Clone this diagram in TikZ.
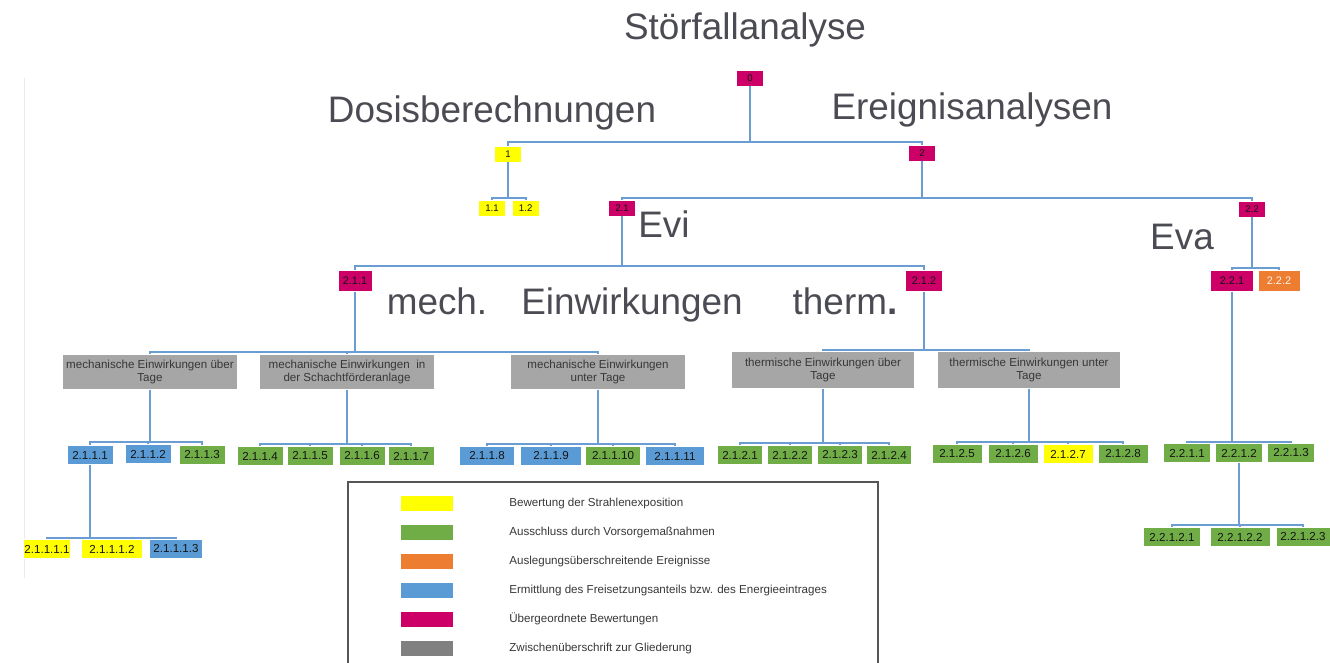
\documentclass[tikz,border=0pt]{standalone}
\usepackage{fontspec}
\setmainfont{Liberation Sans}
\usetikzlibrary{positioning}
\definecolor{magentabox}{HTML}{CC0066}
\definecolor{yellowbox}{HTML}{FFFF00}
\definecolor{greenbox}{HTML}{70AD47}
\definecolor{bluebox}{HTML}{5B9BD5}
\definecolor{orangebox}{HTML}{ED7D31}
\definecolor{greybox}{HTML}{A6A6A6}
\definecolor{legendgrey}{HTML}{808080}
\definecolor{linkblue}{HTML}{6A9ED2}
\definecolor{titletext}{HTML}{4B4B53}
\definecolor{boxtext}{HTML}{141414}
\definecolor{framegrey}{HTML}{555555}
\tikzstyle{heading} = [anchor=base, inner sep=0pt, font=\fontsize{21}{25}\selectfont, text=titletext]
\tikzstyle{numsmall} = [rectangle, minimum width=0.54cm, minimum height=0.32cm, inner sep=0pt, draw=white, font=\fontsize{5.5}{6}\selectfont, text=boxtext]
\tikzstyle{nummid} = [numsmall, minimum width=0.74cm, minimum height=0.42cm, font=\fontsize{6.2}{7}\selectfont]
\tikzstyle{numleaf} = [numsmall, minimum width=0.92cm, minimum height=0.38cm, font=\fontsize{6.6}{7}\selectfont]
\tikzstyle{subhead} = [rectangle, fill=greybox, draw=white, minimum width=3.5cm, minimum height=0.7cm, inner sep=0pt, align=center, font=\fontsize{6.6}{7.8}\selectfont, text=boxtext!85]
\tikzstyle{link} = [draw=linkblue, line width=1pt]
\tikzstyle{swatch} = [rectangle, minimum width=1.06cm, minimum height=0.3cm, inner sep=0pt]
\tikzstyle{legendtext} = [anchor=west, inner sep=0pt, font=\fontsize{6.6}{8}\selectfont, text=boxtext!85]

\begin{document}
\begin{tikzpicture}[x=0.02cm, y=-0.02cm]
    \useasboundingbox (0,0) rectangle (1330,663);

    % faint margin line
    \draw [draw=black!8, line width=0.5pt] (24,78) -- (24,578);

    % headings
    \node (t-stoer) [heading] at (745,39) {Störfallanalyse};
    \node (t-dosis) [heading] at (492,122) {Dosisberechnungen};
    \node (t-ereig) [heading] at (972,119) {Ereignisanalysen};
    \node (t-evi) [heading] at (664,237) {Evi};
    \node (t-eva) [heading] at (1182,249) {Eva};
    \node (t-mech) [heading] at (437,314) {mech.};
    \node (t-einw) [heading] at (632,314) {Einwirkungen};
    \node (t-therm) [heading] at (845,314) {therm\textbf{.}};

    % upper levels
    \node (n0) [numsmall, fill=magentabox] at (750,78) {0};
    \node (n1) [numsmall, fill=yellowbox] at (508,154) {1};
    \node (n2) [numsmall, fill=magentabox] at (922,153) {2};
    \node (n1-1) [numsmall, fill=yellowbox] at (492,208) {1.1};
    \node (n1-2) [numsmall, fill=yellowbox, right=0.12cm of n1-1] {1.2};
    \node (n2-1) [numsmall, fill=magentabox] at (622,208) {2.1};
    \node (n2-2) [numsmall, fill=magentabox] at (1252,209) {2.2};
    \node (n2-1-1) [nummid, fill=magentabox, minimum width=0.68cm] at (355,281) {2.1.1};
    \node (n2-1-2) [nummid, fill=magentabox] at (924,281) {2.1.2};
    \node (n2-2-1) [nummid, fill=magentabox, minimum width=0.86cm] at (1232,281) {2.2.1};
    \node (n2-2-2) [nummid, fill=orangebox, minimum width=0.84cm, text=white!90!orangebox] at (1279,281) {2.2.2};

    % intermediate headings
    \node (g-mech-ueber) [subhead] at (150,372) {mechanische Einwirkungen über\\Tage};
    \node (g-mech-schacht) [subhead] at (347,372) {mechanische Einwirkungen \ in\\der Schachtförderanlage};
    \node (g-mech-unter) [subhead] at (598,372) {mechanische Einwirkungen\\unter Tage};
    \node (g-therm-ueber) [subhead, minimum width=3.66cm, minimum height=0.74cm] at (823,370) {thermische Einwirkungen über\\Tage};
    \node (g-therm-unter) [subhead, minimum width=3.66cm, minimum height=0.74cm] at (1029,370) {thermische Einwirkungen unter\\Tage};

    % leaves
    \node (n2-1-1-1) [numleaf, fill=bluebox] at (90,455) {2.1.1.1};
    \node (n2-1-1-2) [numleaf, fill=bluebox] at (148,454) {2.1.1.2};
    \node (n2-1-1-3) [numleaf, fill=greenbox] at (202,455) {2.1.1.3};
    \node (n2-1-1-4) [numleaf, fill=greenbox] at (260,456) {2.1.1.4};
    \node (n2-1-1-5) [numleaf, fill=greenbox] at (310,456) {2.1.1.5};
    \node (n2-1-1-6) [numleaf, fill=greenbox] at (362,456) {2.1.1.6};
    \node (n2-1-1-7) [numleaf, fill=greenbox] at (411,456) {2.1.1.7};
    \node (n2-1-1-8) [numleaf, fill=bluebox, minimum width=1.1cm] at (487,456) {2.1.1.8};
    \node (n2-1-1-9) [numleaf, fill=bluebox, minimum width=1.22cm] at (551,456) {2.1.1.9};
    \node (n2-1-1-10) [numleaf, fill=greenbox, minimum width=1.1cm] at (613,456) {2.1.1.10};
    \node (n2-1-1-11) [numleaf, fill=bluebox, minimum width=1.18cm] at (675,456) {2.1.1.11};
    \node (n2-1-2-1) [numleaf, fill=greenbox, minimum width=0.9cm] at (740,455) {2.1.2.1};
    \node (n2-1-2-2) [numleaf, fill=greenbox, minimum width=0.9cm] at (790,455) {2.1.2.2};
    \node (n2-1-2-3) [numleaf, fill=greenbox, minimum width=0.9cm] at (840,455) {2.1.2.3};
    \node (n2-1-2-4) [numleaf, fill=greenbox, minimum width=0.9cm] at (889,455) {2.1.2.4};
    \node (n2-1-2-5) [numleaf, fill=greenbox, minimum width=1.0cm] at (957,454) {2.1.2.5};
    \node (n2-1-2-6) [numleaf, fill=greenbox, minimum width=1.0cm] at (1013,454) {2.1.2.6};
    \node (n2-1-2-7) [numleaf, fill=yellowbox, minimum width=1.0cm] at (1068,454) {2.1.2.7};
    \node (n2-1-2-8) [numleaf, fill=greenbox, minimum width=1.0cm] at (1123,454) {2.1.2.8};
    \node (n2-2-1-1) [numleaf, fill=greenbox, minimum width=0.94cm] at (1187,453) {2.2.1.1};
    \node (n2-2-1-2) [numleaf, fill=greenbox, minimum width=0.94cm] at (1239,453) {2.2.1.2};
    \node (n2-2-1-3) [numleaf, fill=greenbox, minimum width=0.94cm] at (1291,453) {2.2.1.3};
    \node (n2-2-1-2-1) [numleaf, fill=greenbox, minimum width=1.14cm] at (1172,537) {2.2.1.2.1};
    \node (n2-2-1-2-2) [numleaf, fill=greenbox, minimum width=1.2cm] at (1240,537) {2.2.1.2.2};
    \node (n2-2-1-2-3) [numleaf, fill=greenbox, minimum width=1.08cm] at (1303,537) {2.2.1.2.3};
    \node (n2-1-1-1-1) [numleaf, fill=yellowbox, minimum width=0.94cm] at (47,549) {2.1.1.1.1};
    \node (n2-1-1-1-2) [numleaf, fill=yellowbox, minimum width=1.22cm] at (112,549) {2.1.1.1.2};
    \node (n2-1-1-1-3) [numleaf, fill=bluebox, minimum width=1.06cm] at (176,549) {2.1.1.1.3};

    % bar points of the tree
    \coordinate (bar-0) at (750,142);
    \coordinate (bar-1) at (508,198);
    \coordinate (bar-2) at (922,198);
    \coordinate (bar-2-1) at (622,266);
    \coordinate (bar-2-2) at (1252,268);
    \coordinate (bar-2-1-1) at (355,352);
    \coordinate (bar-2-1-2) at (924,350);
    \coordinate (bar-mu) at (150,442);
    \coordinate (bar-ms) at (347,444);
    \coordinate (bar-mt) at (598,444);
    \coordinate (bar-tu) at (823,443);
    \coordinate (bar-tt) at (1029,442);
    \coordinate (bar-2-2-1) at (1232,442);
    \coordinate (bar-2-1-1-1) at (90,538);
    \coordinate (bar-2-2-1-2) at (1239,525);

    % connectors
    \foreach \p/\b/\c in {n0/bar-0/n1, n0/bar-0/n2,
        n1/bar-1/n1-1, n1/bar-1/n1-2,
        n2/bar-2/n2-1, n2/bar-2/n2-2,
        n2-1/bar-2-1/n2-1-1, n2-1/bar-2-1/n2-1-2,
        n2-2/bar-2-2/n2-2-1, n2-2/bar-2-2/n2-2-2,
        n2-1-1/bar-2-1-1/g-mech-ueber, n2-1-1/bar-2-1-1/g-mech-schacht, n2-1-1/bar-2-1-1/g-mech-unter,
        n2-1-2/bar-2-1-2/g-therm-ueber, n2-1-2/bar-2-1-2/g-therm-unter,
        g-mech-ueber/bar-mu/n2-1-1-1, g-mech-ueber/bar-mu/n2-1-1-2, g-mech-ueber/bar-mu/n2-1-1-3,
        g-mech-schacht/bar-ms/n2-1-1-4, g-mech-schacht/bar-ms/n2-1-1-5, g-mech-schacht/bar-ms/n2-1-1-6, g-mech-schacht/bar-ms/n2-1-1-7,
        g-mech-unter/bar-mt/n2-1-1-8, g-mech-unter/bar-mt/n2-1-1-9, g-mech-unter/bar-mt/n2-1-1-10, g-mech-unter/bar-mt/n2-1-1-11,
        g-therm-ueber/bar-tu/n2-1-2-1, g-therm-ueber/bar-tu/n2-1-2-2, g-therm-ueber/bar-tu/n2-1-2-3, g-therm-ueber/bar-tu/n2-1-2-4,
        g-therm-unter/bar-tt/n2-1-2-5, g-therm-unter/bar-tt/n2-1-2-6, g-therm-unter/bar-tt/n2-1-2-7, g-therm-unter/bar-tt/n2-1-2-8,
        n2-2-1/bar-2-2-1/n2-2-1-1, n2-2-1/bar-2-2-1/n2-2-1-2, n2-2-1/bar-2-2-1/n2-2-1-3,
        n2-1-1-1/bar-2-1-1-1/n2-1-1-1-1, n2-1-1-1/bar-2-1-1-1/n2-1-1-1-2, n2-1-1-1/bar-2-1-1-1/n2-1-1-1-3,
        n2-2-1-2/bar-2-2-1-2/n2-2-1-2-1, n2-2-1-2/bar-2-2-1-2/n2-2-1-2-2, n2-2-1-2/bar-2-2-1-2/n2-2-1-2-3}
        \draw [link] (\p) -- (\b) -| (\c);

    % legend
    \draw [draw=framegrey, line width=0.6pt] (348,663) |- (878,482) -- (878,663);
    \foreach \col/\txt [count=\i] in {yellowbox/Bewertung der Strahlenexposition,
        greenbox/Ausschluss durch Vorsorgemaßnahmen,
        orangebox/Auslegungsüberschreitende Ereignisse,
        bluebox/Ermittlung des Freisetzungsanteils bzw. des Energieeintrages,
        magentabox/Übergeordnete Bewertungen,
        legendgrey/Zwischenüberschrift zur Gliederung} {
        \node (sw\i) [swatch, fill=\col] at (427,474+29*\i) {};
        \node (lt\i) [legendtext] at (509,474+29*\i) {\txt};
    }

\end{tikzpicture}
\end{document}
